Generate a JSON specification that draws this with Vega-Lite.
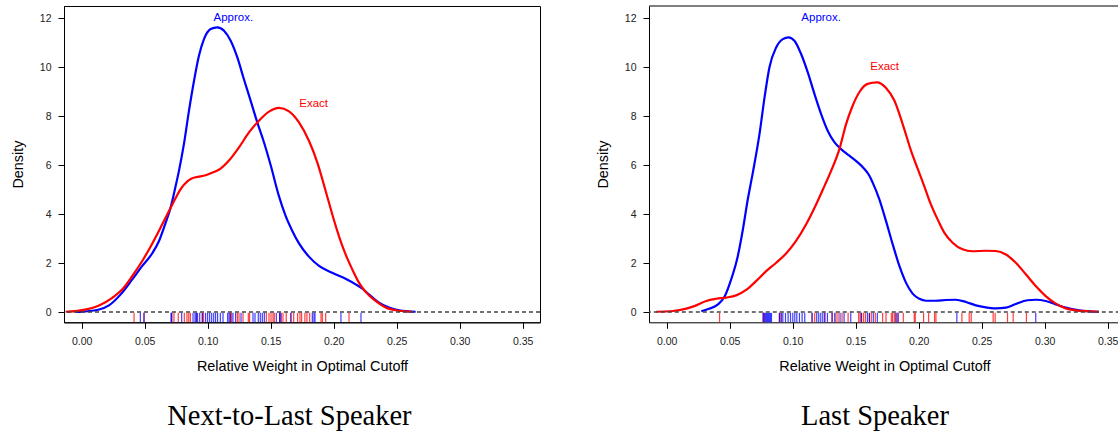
{
  "$schema": "https://vega.github.io/schema/vega-lite/v6.json",
  "background": "white",
  "padding": {"left": 9, "top": 5, "right": 0, "bottom": 0},
  "bounds": "flush",
  "spacing": 109,
  "datasets": {
    "curveL": [
      {"m": "Approx.", "x": -0.005, "y": 0.0}, {"m": "Approx.", "x": 0.0005, "y": 0.01}, {"m": "Approx.", "x": 0.0138, "y": 0.1},
      {"m": "Approx.", "x": 0.0217, "y": 0.27}, {"m": "Approx.", "x": 0.031, "y": 0.72}, {"m": "Approx.", "x": 0.0402, "y": 1.33},
      {"m": "Approx.", "x": 0.0481, "y": 1.88}, {"m": "Approx.", "x": 0.0561, "y": 2.4}, {"m": "Approx.", "x": 0.0614, "y": 2.9},
      {"m": "Approx.", "x": 0.0667, "y": 3.65}, {"m": "Approx.", "x": 0.0706, "y": 4.26}, {"m": "Approx.", "x": 0.0746, "y": 5.14},
      {"m": "Approx.", "x": 0.0772, "y": 5.75}, {"m": "Approx.", "x": 0.0812, "y": 6.86}, {"m": "Approx.", "x": 0.0852, "y": 8.22},
      {"m": "Approx.", "x": 0.0892, "y": 9.44}, {"m": "Approx.", "x": 0.0931, "y": 10.46}, {"m": "Approx.", "x": 0.0971, "y": 11.14},
      {"m": "Approx.", "x": 0.1024, "y": 11.55}, {"m": "Approx.", "x": 0.1077, "y": 11.62}, {"m": "Approx.", "x": 0.113, "y": 11.48},
      {"m": "Approx.", "x": 0.1183, "y": 11.07}, {"m": "Approx.", "x": 0.1235, "y": 10.4}, {"m": "Approx.", "x": 0.1288, "y": 9.5},
      {"m": "Approx.", "x": 0.1341, "y": 8.63}, {"m": "Approx.", "x": 0.1394, "y": 7.74}, {"m": "Approx.", "x": 0.1447, "y": 6.93},
      {"m": "Approx.", "x": 0.15, "y": 6.0}, {"m": "Approx.", "x": 0.1566, "y": 4.73}, {"m": "Approx.", "x": 0.1619, "y": 3.92},
      {"m": "Approx.", "x": 0.1672, "y": 3.31}, {"m": "Approx.", "x": 0.1725, "y": 2.8}, {"m": "Approx.", "x": 0.1804, "y": 2.26},
      {"m": "Approx.", "x": 0.1884, "y": 1.88}, {"m": "Approx.", "x": 0.1989, "y": 1.6}, {"m": "Approx.", "x": 0.2095, "y": 1.36},
      {"m": "Approx.", "x": 0.2175, "y": 1.13}, {"m": "Approx.", "x": 0.2228, "y": 0.95}, {"m": "Approx.", "x": 0.228, "y": 0.72},
      {"m": "Approx.", "x": 0.236, "y": 0.38}, {"m": "Approx.", "x": 0.2439, "y": 0.18}, {"m": "Approx.", "x": 0.2519, "y": 0.07},
      {"m": "Approx.", "x": 0.2651, "y": 0.01},
      {"m": "Exact", "x": -0.0127, "y": 0.01}, {"m": "Exact", "x": 0.0005, "y": 0.08}, {"m": "Exact", "x": 0.0138, "y": 0.27},
      {"m": "Exact", "x": 0.0243, "y": 0.58}, {"m": "Exact", "x": 0.0323, "y": 0.93}, {"m": "Exact", "x": 0.0402, "y": 1.47},
      {"m": "Exact", "x": 0.0481, "y": 2.08}, {"m": "Exact", "x": 0.0561, "y": 2.8}, {"m": "Exact", "x": 0.064, "y": 3.58},
      {"m": "Exact", "x": 0.072, "y": 4.39}, {"m": "Exact", "x": 0.0786, "y": 5.02}, {"m": "Exact", "x": 0.0839, "y": 5.33},
      {"m": "Exact", "x": 0.087, "y": 5.44}, {"m": "Exact", "x": 0.0905, "y": 5.5}, {"m": "Exact", "x": 0.0984, "y": 5.58},
      {"m": "Exact", "x": 0.105, "y": 5.71},
      {"m": "Exact", "x": 0.1103, "y": 5.85}, {"m": "Exact", "x": 0.1169, "y": 6.18}, {"m": "Exact", "x": 0.1249, "y": 6.72},
      {"m": "Exact", "x": 0.1328, "y": 7.33}, {"m": "Exact", "x": 0.1407, "y": 7.81}, {"m": "Exact", "x": 0.1487, "y": 8.18},
      {"m": "Exact", "x": 0.1566, "y": 8.33}, {"m": "Exact", "x": 0.1646, "y": 8.19}, {"m": "Exact", "x": 0.1725, "y": 7.74},
      {"m": "Exact", "x": 0.1804, "y": 6.99}, {"m": "Exact", "x": 0.187, "y": 6.11}, {"m": "Exact", "x": 0.1937, "y": 4.94},
      {"m": "Exact", "x": 0.1989, "y": 3.99}, {"m": "Exact", "x": 0.2042, "y": 3.1}, {"m": "Exact", "x": 0.2095, "y": 2.35},
      {"m": "Exact", "x": 0.2148, "y": 1.74}, {"m": "Exact", "x": 0.2201, "y": 1.2}, {"m": "Exact", "x": 0.2254, "y": 0.82},
      {"m": "Exact", "x": 0.2333, "y": 0.45}, {"m": "Exact", "x": 0.2413, "y": 0.18}, {"m": "Exact", "x": 0.2519, "y": 0.05},
      {"m": "Exact", "x": 0.2624, "y": 0.01}
    ],
    "curveR": [
      {"m": "Approx.", "x": 0.0275, "y": 0.03}, {"m": "Approx.", "x": 0.0341, "y": 0.14}, {"m": "Approx.", "x": 0.0407, "y": 0.31},
      {"m": "Approx.", "x": 0.046, "y": 0.63}, {"m": "Approx.", "x": 0.0512, "y": 1.33}, {"m": "Approx.", "x": 0.0565, "y": 2.29},
      {"m": "Approx.", "x": 0.0605, "y": 3.37}, {"m": "Approx.", "x": 0.0644, "y": 4.6}, {"m": "Approx.", "x": 0.0684, "y": 5.69},
      {"m": "Approx.", "x": 0.0737, "y": 7.27}, {"m": "Approx.", "x": 0.0777, "y": 8.76}, {"m": "Approx.", "x": 0.0816, "y": 9.99},
      {"m": "Approx.", "x": 0.0869, "y": 10.8}, {"m": "Approx.", "x": 0.0922, "y": 11.14}, {"m": "Approx.", "x": 0.0967, "y": 11.21},
      {"m": "Approx.", "x": 0.1014, "y": 11.07}, {"m": "Approx.", "x": 0.1067, "y": 10.53}, {"m": "Approx.", "x": 0.112, "y": 9.78},
      {"m": "Approx.", "x": 0.1173, "y": 8.9}, {"m": "Approx.", "x": 0.1226, "y": 8.08}, {"m": "Approx.", "x": 0.1278, "y": 7.4},
      {"m": "Approx.", "x": 0.1331, "y": 6.93}, {"m": "Approx.", "x": 0.1384, "y": 6.65}, {"m": "Approx.", "x": 0.145, "y": 6.38},
      {"m": "Approx.", "x": 0.1516, "y": 6.11}, {"m": "Approx.", "x": 0.1569, "y": 5.84}, {"m": "Approx.", "x": 0.1609, "y": 5.56},
      {"m": "Approx.", "x": 0.1635, "y": 5.28}, {"m": "Approx.", "x": 0.1688, "y": 4.6}, {"m": "Approx.", "x": 0.1741, "y": 3.71},
      {"m": "Approx.", "x": 0.1794, "y": 2.76}, {"m": "Approx.", "x": 0.1847, "y": 1.88}, {"m": "Approx.", "x": 0.1899, "y": 1.2},
      {"m": "Approx.", "x": 0.1952, "y": 0.75}, {"m": "Approx.", "x": 0.2005, "y": 0.54}, {"m": "Approx.", "x": 0.2058, "y": 0.46},
      {"m": "Approx.", "x": 0.2137, "y": 0.46}, {"m": "Approx.", "x": 0.2216, "y": 0.49}, {"m": "Approx.", "x": 0.2295, "y": 0.5},
      {"m": "Approx.", "x": 0.2375, "y": 0.41}, {"m": "Approx.", "x": 0.2454, "y": 0.27}, {"m": "Approx.", "x": 0.2533, "y": 0.19},
      {"m": "Approx.", "x": 0.2612, "y": 0.15}, {"m": "Approx.", "x": 0.2692, "y": 0.18}, {"m": "Approx.", "x": 0.2771, "y": 0.33},
      {"m": "Approx.", "x": 0.2863, "y": 0.48}, {"m": "Approx.", "x": 0.2929, "y": 0.5}, {"m": "Approx.", "x": 0.3008, "y": 0.45},
      {"m": "Approx.", "x": 0.3088, "y": 0.31}, {"m": "Approx.", "x": 0.3167, "y": 0.18}, {"m": "Approx.", "x": 0.3273, "y": 0.07},
      {"m": "Approx.", "x": 0.3431, "y": 0.01},
      {"m": "Exact", "x": -0.0082, "y": 0.01}, {"m": "Exact", "x": 0.005, "y": 0.04}, {"m": "Exact", "x": 0.0156, "y": 0.14},
      {"m": "Exact", "x": 0.0235, "y": 0.27}, {"m": "Exact", "x": 0.0314, "y": 0.45}, {"m": "Exact", "x": 0.0394, "y": 0.54},
      {"m": "Exact", "x": 0.0473, "y": 0.59}, {"m": "Exact", "x": 0.0552, "y": 0.68}, {"m": "Exact", "x": 0.0631, "y": 0.9},
      {"m": "Exact", "x": 0.0711, "y": 1.27}, {"m": "Exact", "x": 0.079, "y": 1.67}, {"m": "Exact", "x": 0.0869, "y": 2.01},
      {"m": "Exact", "x": 0.0948, "y": 2.39}, {"m": "Exact", "x": 0.1027, "y": 2.9}, {"m": "Exact", "x": 0.1107, "y": 3.58},
      {"m": "Exact", "x": 0.1186, "y": 4.39}, {"m": "Exact", "x": 0.1252, "y": 5.14}, {"m": "Exact", "x": 0.1305, "y": 5.76},
      {"m": "Exact", "x": 0.1371, "y": 6.65}, {"m": "Exact", "x": 0.1424, "y": 7.67}, {"m": "Exact", "x": 0.1476, "y": 8.42},
      {"m": "Exact", "x": 0.1529, "y": 8.97}, {"m": "Exact", "x": 0.1595, "y": 9.31}, {"m": "Exact", "x": 0.1669, "y": 9.37},
      {"m": "Exact", "x": 0.1741, "y": 9.14}, {"m": "Exact", "x": 0.1807, "y": 8.63}, {"m": "Exact", "x": 0.1873, "y": 7.67},
      {"m": "Exact", "x": 0.1939, "y": 6.59}, {"m": "Exact", "x": 0.1992, "y": 5.85}, {"m": "Exact", "x": 0.2044, "y": 5.14},
      {"m": "Exact", "x": 0.2097, "y": 4.39}, {"m": "Exact", "x": 0.215, "y": 3.78}, {"m": "Exact", "x": 0.2203, "y": 3.24},
      {"m": "Exact", "x": 0.2269, "y": 2.83}, {"m": "Exact", "x": 0.2348, "y": 2.56}, {"m": "Exact", "x": 0.2427, "y": 2.48},
      {"m": "Exact", "x": 0.2533, "y": 2.5}, {"m": "Exact", "x": 0.2612, "y": 2.49}, {"m": "Exact", "x": 0.2692, "y": 2.35},
      {"m": "Exact", "x": 0.2771, "y": 2.01}, {"m": "Exact", "x": 0.285, "y": 1.54}, {"m": "Exact", "x": 0.2929, "y": 1.06},
      {"m": "Exact", "x": 0.3008, "y": 0.65}, {"m": "Exact", "x": 0.3088, "y": 0.34}, {"m": "Exact", "x": 0.3167, "y": 0.15},
      {"m": "Exact", "x": 0.3246, "y": 0.07}, {"m": "Exact", "x": 0.3352, "y": 0.03}, {"m": "Exact", "x": 0.3431, "y": 0.01}
    ],
    "rugL": [
      {"m": "Exact", "x": 0.0416}, {"m": "Exact", "x": 0.0495}, {"m": "Exact", "x": 0.0715}, {"m": "Exact", "x": 0.0733},
      {"m": "Exact", "x": 0.0767}, {"m": "Exact", "x": 0.0815}, {"m": "Exact", "x": 0.0836}, {"m": "Exact", "x": 0.085},
      {"m": "Exact", "x": 0.0863}, {"m": "Exact", "x": 0.091}, {"m": "Exact", "x": 0.0958}, {"m": "Exact", "x": 0.0968},
      {"m": "Exact", "x": 0.118}, {"m": "Exact", "x": 0.119}, {"m": "Exact", "x": 0.1236}, {"m": "Exact", "x": 0.1249},
      {"m": "Exact", "x": 0.1281}, {"m": "Exact", "x": 0.1323}, {"m": "Exact", "x": 0.1333}, {"m": "Exact", "x": 0.1466},
      {"m": "Exact", "x": 0.1487}, {"m": "Exact", "x": 0.1503}, {"m": "Exact", "x": 0.1519}, {"m": "Exact", "x": 0.1529},
      {"m": "Exact", "x": 0.1571}, {"m": "Exact", "x": 0.1582}, {"m": "Exact", "x": 0.1598}, {"m": "Exact", "x": 0.1624},
      {"m": "Exact", "x": 0.1661}, {"m": "Exact", "x": 0.1683}, {"m": "Exact", "x": 0.1714}, {"m": "Exact", "x": 0.1733},
      {"m": "Exact", "x": 0.1746}, {"m": "Exact", "x": 0.1772}, {"m": "Exact", "x": 0.1788}, {"m": "Exact", "x": 0.181},
      {"m": "Exact", "x": 0.19}, {"m": "Exact", "x": 0.191}, {"m": "Exact", "x": 0.1937}, {"m": "Exact", "x": 0.2122},
      {"m": "Approx.", "x": 0.0466}, {"m": "Approx.", "x": 0.0495}, {"m": "Approx.", "x": 0.0709}, {"m": "Approx.", "x": 0.0715},
      {"m": "Approx.", "x": 0.0794}, {"m": "Approx.", "x": 0.0884}, {"m": "Approx.", "x": 0.09}, {"m": "Approx.", "x": 0.091},
      {"m": "Approx.", "x": 0.092}, {"m": "Approx.", "x": 0.0937}, {"m": "Approx.", "x": 0.0958}, {"m": "Approx.", "x": 0.0984},
      {"m": "Approx.", "x": 0.1}, {"m": "Approx.", "x": 0.1016}, {"m": "Approx.", "x": 0.1032}, {"m": "Approx.", "x": 0.1048},
      {"m": "Approx.", "x": 0.1063}, {"m": "Approx.", "x": 0.1079}, {"m": "Approx.", "x": 0.1101}, {"m": "Approx.", "x": 0.1122},
      {"m": "Approx.", "x": 0.1159}, {"m": "Approx.", "x": 0.117}, {"m": "Approx.", "x": 0.118}, {"m": "Approx.", "x": 0.1201},
      {"m": "Approx.", "x": 0.1222}, {"m": "Approx.", "x": 0.1265}, {"m": "Approx.", "x": 0.136}, {"m": "Approx.", "x": 0.1376},
      {"m": "Approx.", "x": 0.1402}, {"m": "Approx.", "x": 0.1418}, {"m": "Approx.", "x": 0.1434}, {"m": "Approx.", "x": 0.145},
      {"m": "Approx.", "x": 0.1545}, {"m": "Approx.", "x": 0.1571}, {"m": "Approx.", "x": 0.1582}, {"m": "Approx.", "x": 0.1661},
      {"m": "Approx.", "x": 0.1831}, {"m": "Approx.", "x": 0.1844}, {"m": "Approx.", "x": 0.1852}, {"m": "Approx.", "x": 0.2058},
      {"m": "Approx.", "x": 0.2217}
    ],
    "rugR": [
      {"m": "Exact", "x": 0.042}, {"m": "Exact", "x": 0.0766}, {"m": "Exact", "x": 0.0774}, {"m": "Exact", "x": 0.0895},
      {"m": "Exact", "x": 0.0901}, {"m": "Exact", "x": 0.1154}, {"m": "Exact", "x": 0.1175}, {"m": "Exact", "x": 0.1255},
      {"m": "Exact", "x": 0.1313}, {"m": "Exact", "x": 0.1344}, {"m": "Exact", "x": 0.136}, {"m": "Exact", "x": 0.1392},
      {"m": "Exact", "x": 0.144}, {"m": "Exact", "x": 0.1524}, {"m": "Exact", "x": 0.1535}, {"m": "Exact", "x": 0.1545},
      {"m": "Exact", "x": 0.1561}, {"m": "Exact", "x": 0.1577}, {"m": "Exact", "x": 0.1609}, {"m": "Exact", "x": 0.1624},
      {"m": "Exact", "x": 0.1656}, {"m": "Exact", "x": 0.1714}, {"m": "Exact", "x": 0.1741}, {"m": "Exact", "x": 0.1783},
      {"m": "Exact", "x": 0.1793}, {"m": "Exact", "x": 0.1807}, {"m": "Exact", "x": 0.182}, {"m": "Exact", "x": 0.1836},
      {"m": "Exact", "x": 0.1878}, {"m": "Exact", "x": 0.1965}, {"m": "Exact", "x": 0.1973}, {"m": "Exact", "x": 0.2039},
      {"m": "Exact", "x": 0.2079}, {"m": "Exact", "x": 0.2126}, {"m": "Exact", "x": 0.2137}, {"m": "Exact", "x": 0.2343},
      {"m": "Exact", "x": 0.2401}, {"m": "Exact", "x": 0.2417}, {"m": "Exact", "x": 0.2591}, {"m": "Exact", "x": 0.2607},
      {"m": "Exact", "x": 0.2705}, {"m": "Exact", "x": 0.275}, {"m": "Exact", "x": 0.2855},
      {"m": "Approx.", "x": 0.0766}, {"m": "Approx.", "x": 0.0774}, {"m": "Approx.", "x": 0.0784}, {"m": "Approx.", "x": 0.0792},
      {"m": "Approx.", "x": 0.08}, {"m": "Approx.", "x": 0.0808}, {"m": "Approx.", "x": 0.0816}, {"m": "Approx.", "x": 0.0824},
      {"m": "Approx.", "x": 0.0832}, {"m": "Approx.", "x": 0.0895}, {"m": "Approx.", "x": 0.0911}, {"m": "Approx.", "x": 0.0922},
      {"m": "Approx.", "x": 0.0943}, {"m": "Approx.", "x": 0.0964}, {"m": "Approx.", "x": 0.0983}, {"m": "Approx.", "x": 0.1001},
      {"m": "Approx.", "x": 0.1017}, {"m": "Approx.", "x": 0.1033}, {"m": "Approx.", "x": 0.1054}, {"m": "Approx.", "x": 0.1075},
      {"m": "Approx.", "x": 0.1096}, {"m": "Approx.", "x": 0.1154}, {"m": "Approx.", "x": 0.1191}, {"m": "Approx.", "x": 0.1207},
      {"m": "Approx.", "x": 0.1223}, {"m": "Approx.", "x": 0.1239}, {"m": "Approx.", "x": 0.1255}, {"m": "Approx.", "x": 0.1276},
      {"m": "Approx.", "x": 0.1313}, {"m": "Approx.", "x": 0.1334}, {"m": "Approx.", "x": 0.1376}, {"m": "Approx.", "x": 0.1408},
      {"m": "Approx.", "x": 0.1461}, {"m": "Approx.", "x": 0.1545}, {"m": "Approx.", "x": 0.1593}, {"m": "Approx.", "x": 0.1609},
      {"m": "Approx.", "x": 0.164}, {"m": "Approx.", "x": 0.1672}, {"m": "Approx.", "x": 0.182}, {"m": "Approx.", "x": 0.1836},
      {"m": "Approx.", "x": 0.2303}, {"m": "Approx.", "x": 0.2929}
    ],
    "labelL": [
      {"m": "Approx.", "x": 0.1204, "y": 12.0},
      {"m": "Exact", "x": 0.1841, "y": 8.51}
    ],
    "labelR": [
      {"m": "Approx.", "x": 0.1226, "y": 12.0},
      {"m": "Exact", "x": 0.173, "y": 9.98}
    ]
  },
  "hconcat": [
    {
      "width": 476,
      "height": 316.3,
      "view": {"stroke": "#000", "strokeWidth": 1},
      "title": {"text": "Next-to-Last Speaker", "orient": "bottom", "anchor": "middle", "frame": "group", "dx": -12.6, "offset": 29},
      "layer": [
        {
          "data": {"name": "curveL"},
          "mark": {"type": "line", "strokeWidth": 2.2, "interpolate": "monotone"},
          "encoding": {
            "x": {"field": "x", "type": "quantitative", "title": "Relative Weight in Optimal Cutoff",
                  "scale": {"domain": [-0.014, 0.3638], "nice": false, "zero": false},
                  "axis": {"values": [0, 0.05, 0.1, 0.15, 0.2, 0.25, 0.3, 0.35], "format": ".2f"}},
            "y": {"field": "y", "type": "quantitative", "title": "Density",
                  "scale": {"domain": [-0.42, 12.49], "nice": false, "zero": false},
                  "axis": {"values": [0, 2, 4, 6, 8, 10, 12]}},
            "color": {"field": "m", "type": "nominal", "scale": {"domain": ["Approx.", "Exact"], "range": ["#0000ff", "#ff0000"]}, "legend": null}
          }
        },
        {
          "data": {"name": "rugL"},
          "mark": {"type": "rule", "strokeWidth": 1.2, "opacity": 0.75},
          "encoding": {
            "x": {"field": "x", "type": "quantitative", "title": "Relative Weight in Optimal Cutoff"},
            "y": {"datum": -0.42, "type": "quantitative", "title": "Density"},
            "y2": {"datum": -0.035},
            "color": {"field": "m", "type": "nominal", "legend": null}
          }
        },
        {
          "data": {"values": [{}]},
          "mark": {"type": "rule", "color": "#444", "strokeWidth": 1.3, "strokeDash": [4, 3]},
          "encoding": {
            "y": {"datum": 0, "type": "quantitative", "title": "Density"}
          }
        },
        {
          "data": {"name": "labelL"},
          "mark": {"type": "text", "fontSize": 11.5, "font": "Liberation Sans", "align": "center", "baseline": "middle"},
          "encoding": {
            "x": {"field": "x", "type": "quantitative", "title": "Relative Weight in Optimal Cutoff"},
            "y": {"field": "y", "type": "quantitative", "title": "Density"},
            "text": {"field": "m"},
            "color": {"field": "m", "type": "nominal", "legend": null}
          }
        }
      ]
    },
    {
      "width": 470.8,
      "height": 316.3,
      "view": {"stroke": null},
      "title": {"text": "Last Speaker", "orient": "bottom", "anchor": "middle", "frame": "group", "dx": -9.4, "offset": 29},
      "layer": [
        {
          "data": {"name": "curveR"},
          "mark": {"type": "line", "strokeWidth": 2.2, "interpolate": "monotone"},
          "encoding": {
            "x": {"field": "x", "type": "quantitative", "title": "Relative Weight in Optimal Cutoff",
                  "scale": {"domain": [-0.014, 0.3596], "nice": false, "zero": false},
                  "axis": {"values": [0, 0.05, 0.1, 0.15, 0.2, 0.25, 0.3, 0.35], "format": ".2f"}},
            "y": {"field": "y", "type": "quantitative", "title": "Density",
                  "scale": {"domain": [-0.42, 12.49], "nice": false, "zero": false},
                  "axis": {"values": [0, 2, 4, 6, 8, 10, 12]}},
            "color": {"field": "m", "type": "nominal", "scale": {"domain": ["Approx.", "Exact"], "range": ["#0000ff", "#ff0000"]}, "legend": null}
          }
        },
        {
          "data": {"name": "rugR"},
          "mark": {"type": "rule", "strokeWidth": 1.2, "opacity": 0.75},
          "encoding": {
            "x": {"field": "x", "type": "quantitative", "title": "Relative Weight in Optimal Cutoff"},
            "y": {"datum": -0.42, "type": "quantitative", "title": "Density"},
            "y2": {"datum": -0.035},
            "color": {"field": "m", "type": "nominal", "legend": null}
          }
        },
        {
          "data": {"values": [{}]},
          "mark": {"type": "rule", "color": "#444", "strokeWidth": 1.3, "strokeDash": [4, 3]},
          "encoding": {
            "y": {"datum": 0, "type": "quantitative", "title": "Density"}
          }
        },
        {
          "data": {"values": [{}]},
          "mark": {"type": "rule", "color": "#000", "strokeWidth": 1.2},
          "encoding": {
            "y": {"datum": 12.49, "type": "quantitative", "title": "Density"}
          }
        },
        {
          "data": {"name": "labelR"},
          "mark": {"type": "text", "fontSize": 11.5, "font": "Liberation Sans", "align": "center", "baseline": "middle"},
          "encoding": {
            "x": {"field": "x", "type": "quantitative", "title": "Relative Weight in Optimal Cutoff"},
            "y": {"field": "y", "type": "quantitative", "title": "Density"},
            "text": {"field": "m"},
            "color": {"field": "m", "type": "nominal", "legend": null}
          }
        }
      ]
    }
  ],
  "config": {
    "font": "Liberation Sans",
    "axis": {
      "grid": false,
      "domain": true,
      "domainColor": "#000",
      "domainWidth": 1,
      "tickColor": "#000",
      "tickWidth": 1,
      "tickSize": 6,
      "labelFont": "Liberation Sans",
      "labelFontSize": 10.5,
      "labelColor": "#222",
      "titleFont": "Liberation Sans",
      "titleFontSize": 14.4,
      "titleFontWeight": "normal",
      "titleColor": "#000"
    },
    "axisX": {"labelPadding": 8, "titlePadding": 13},
    "axisY": {"labelPadding": 7, "titlePadding": 14},
    "title": {"font": "Liberation Serif", "fontSize": 28.5, "fontWeight": "normal", "color": "#000"}
  }
}
